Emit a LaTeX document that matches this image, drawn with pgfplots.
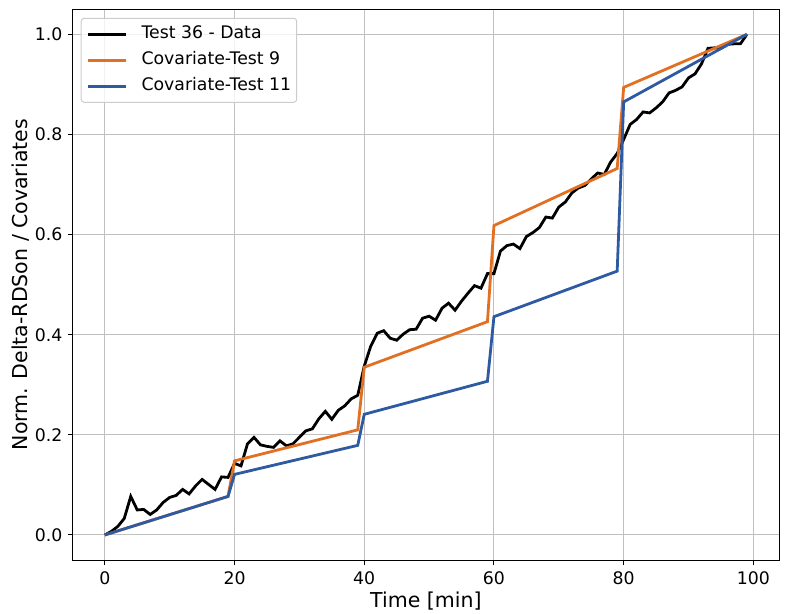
\documentclass[border=0pt]{standalone}
\usepackage{pgfplots}
\pgfplotsset{compat=1.18}
\usepackage{fontspec}
\setmainfont{DejaVu Sans}
\definecolor{cOrange}{RGB}{225,112,35}
\definecolor{cBlue}{RGB}{45,90,160}
\definecolor{cGrid}{RGB}{192,192,192}
\begin{document}
\begin{tikzpicture}
\begin{axis}[
  scale only axis,
  width=706.3pt, height=550.7pt,
  xmin=-4.95, xmax=103.95, ymin=-0.05, ymax=1.05,
  xtick={0,20,40,60,80,100},
  ytick={0,0.2,0.4,0.6,0.8,1.0},
  yticklabel style={/pgf/number format/fixed, /pgf/number format/fixed zerofill, /pgf/number format/precision=1},
  /pgf/number format/assume math mode=true,
  xtick pos=lower, ytick pos=left,
  tick align=outside, major tick length=5pt,
  tick style={black, line width=1pt},
  axis line style={line width=1pt},
  grid=major, grid style={cGrid, line width=1pt},
  ticklabel style={font=\fontsize{17.3}{20}\selectfont},
  xticklabel style={inner sep=0pt, anchor=north, yshift=-6.7pt},
  yticklabel style={inner sep=0pt, anchor=east, xshift=-5pt},
  xlabel={Time [min]},
  ylabel={Norm. Delta-RDSon / Covariates},
  label style={font=\fontsize{20.5}{24}\selectfont},
  xlabel style={at={(axis description cs:0.5,0)}, anchor=base, yshift=-47.3pt, inner sep=0pt},
  ylabel style={at={(axis description cs:0,0.5)}, anchor=base, yshift=45.4pt, inner sep=0pt},
  legend style={at={(0,1)}, anchor=north west, xshift=8pt, yshift=-8.5pt,
    draw=black!20, line width=1pt, rounded corners=3pt, fill=white, fill opacity=0.8, text opacity=1,
    font=\fontsize{17.3}{20}\selectfont,
    inner xsep=5.5pt, inner ysep=7.5pt, row sep=9pt,
    nodes={inner sep=0pt, text height=13pt, text depth=4pt},
    /tikz/every odd column/.append style={column sep=14pt}},
  legend cell align=left,
  legend image code/.code={\draw[#1] (0pt,0pt) -- (38pt,0pt);},
]
\addplot[black, line width=2.8pt] coordinates {
(0,0) (1,0.007) (2,0.017) (3,0.033) (4,0.077) (5,0.050) (6,0.051) (7,0.041) (8,0.050) (9,0.065)
(10,0.075) (11,0.079) (12,0.091) (13,0.082) (14,0.098) (15,0.111) (16,0.101) (17,0.091) (18,0.116) (19,0.115)
(20,0.143) (21,0.138) (22,0.182) (23,0.195) (24,0.180) (25,0.177) (26,0.175) (27,0.188) (28,0.178) (29,0.182)
(30,0.195) (31,0.208) (32,0.212) (33,0.232) (34,0.247) (35,0.231) (36,0.249) (37,0.258) (38,0.272) (39,0.279)
(40,0.337) (41,0.377) (42,0.403) (43,0.408) (44,0.393) (45,0.389) (46,0.401) (47,0.410) (48,0.411) (49,0.433)
(50,0.437) (51,0.429) (52,0.453) (53,0.463) (54,0.449) (55,0.467) (56,0.483) (57,0.498) (58,0.493) (59,0.522)
(60,0.522) (61,0.567) (62,0.578) (63,0.581) (64,0.572) (65,0.596) (66,0.604) (67,0.614) (68,0.635) (69,0.633)
(70,0.655) (71,0.665) (72,0.683) (73,0.693) (74,0.698) (75,0.711) (76,0.723) (77,0.720) (78,0.745) (79,0.762)
(80,0.790) (81,0.820) (82,0.830) (83,0.845) (84,0.843) (85,0.853) (86,0.865) (87,0.883) (88,0.888) (89,0.895)
(90,0.913) (91,0.921) (92,0.941) (93,0.972) (94,0.973) (95,0.972) (96,0.980) (97,0.981) (98,0.981) (99,1.000)
};
\addlegendentry{Test 36 - Data}
\addplot[cOrange, line width=2.8pt] coordinates {
(0,0) (19,0.077) (20,0.148) (39,0.210) (40,0.335) (59,0.426) (60,0.618) (79,0.732) (80,0.894) (99,1.0)
};
\addlegendentry{Covariate-Test 9}
\addplot[cBlue, line width=2.8pt] coordinates {
(0,0) (19,0.077) (20,0.121) (39,0.179) (40,0.241) (59,0.307) (60,0.436) (79,0.527) (80,0.865) (99,1.0)
};
\addlegendentry{Covariate-Test 11}
\end{axis}
\pgfresetboundingbox
\path (-72.7pt,-53pt) rectangle (716.3pt,560pt);
\end{tikzpicture}
\end{document}
